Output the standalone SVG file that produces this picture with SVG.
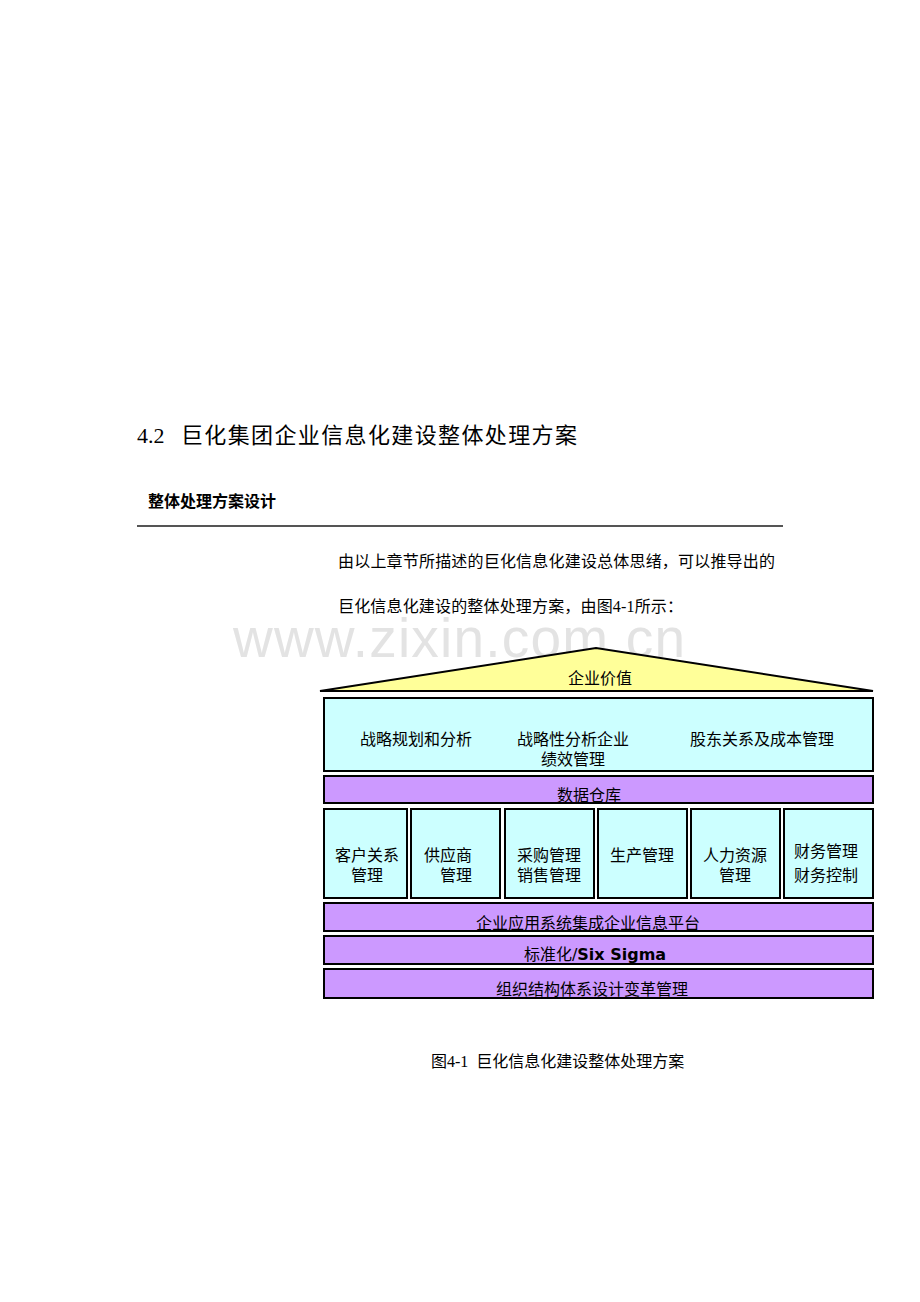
<svg xmlns="http://www.w3.org/2000/svg" width="920" height="1302" viewBox="0 0 920 1302">
<style>
.serif{font-family:"Liberation Serif","Noto Sans CJK SC",serif;fill:#000}
.sans{font-family:"Liberation Sans","Noto Sans CJK SC",sans-serif;fill:#000}
.box{stroke:#000;stroke-width:2}
.cyan{fill:#ccffff}
.purple{fill:#cc99ff}
.t{font-family:"DejaVu Sans","Noto Sans CJK SC",sans-serif;font-size:16px;fill:#000;text-anchor:middle}
</style>
<rect width="920" height="1302" fill="#fff"/>
<text class="serif" x="137" y="443" font-size="22">4.2</text>
<text class="sans" x="181" y="443" font-size="22" textLength="396" lengthAdjust="spacing">巨化集团企业信息化建设整体处理方案</text>
<text class="sans" x="148" y="507" font-size="16" font-weight="bold">整体处理方案设计</text>
<line x1="137" y1="526" x2="783" y2="526" stroke="#555" stroke-width="2"/>
<text class="serif" x="338" y="567" font-size="16" textLength="437" lengthAdjust="spacing">由以上章节所描述的巨化信息化建设总体思绪，可以推导出的</text>
<text class="serif" x="338" y="612" font-size="16" textLength="345" lengthAdjust="spacing">巨化信息化建设的整体处理方案，由图4-1所示：</text>
<text x="459" y="657" font-family="Liberation Sans, sans-serif" font-size="55" fill="#e3e3e3" text-anchor="middle" textLength="452">www.zixin.com.cn</text>
<g id="roof">
<polygon class="box" points="320,691 596,648 873,691" fill="#ffff99"/>
<text class="t" x="600" y="684">企业价值</text>
</g>
<g id="strategy">
<rect class="box cyan" x="324" y="698" width="549" height="73"/>
<text class="t" x="416" y="745">战略规划和分析</text>
<text class="t" x="573" y="745">战略性分析企业</text>
<text class="t" x="573" y="765">绩效管理</text>
<text class="t" x="762" y="745">股东关系及成本管理</text>
</g>
<g id="dw">
<rect class="box purple" x="324" y="776" width="549" height="27"/>
<text class="t" x="589" y="801">数据仓库</text>
</g>
<g id="m1"><rect class="box cyan" x="324" y="809" width="83" height="89"/><text class="t" x="367" y="861">客户关系</text><text class="t" x="367" y="881">管理</text></g>
<g id="m2"><rect class="box cyan" x="411" y="809" width="89" height="89"/><text class="t" x="448" y="861">供应商</text><text class="t" x="456" y="881">管理</text></g>
<g id="m3"><rect class="box cyan" x="505" y="809" width="89" height="89"/><text class="t" x="549" y="861">采购管理</text><text class="t" x="549" y="881">销售管理</text></g>
<g id="m4"><rect class="box cyan" x="598" y="809" width="89" height="89"/><text class="t" x="642" y="861">生产管理</text></g>
<g id="m5"><rect class="box cyan" x="691" y="809" width="89" height="89"/><text class="t" x="735" y="861">人力资源</text><text class="t" x="735" y="881">管理</text></g>
<g id="m6"><rect class="box cyan" x="784" y="809" width="89" height="89"/><text class="t" x="826" y="857">财务管理</text><text class="t" x="826" y="881">财务控制</text></g>
<g id="eai">
<rect class="box purple" x="324" y="903" width="549" height="28"/>
<text class="t" x="588" y="929">企业应用系统集成企业信息平台</text>
</g>
<g id="std">
<rect class="box purple" x="324" y="936" width="549" height="28"/>
<text class="t" x="595" y="960">标准化/<tspan font-weight="bold">Six Sigma</tspan></text>
</g>
<g id="org">
<rect class="box purple" x="324" y="969" width="549" height="29"/>
<text class="t" x="592" y="995">组织结构体系设计变革管理</text>
</g>
<g id="connectors"></g>
<text class="serif" x="431" y="1067" font-size="16" xml:space="preserve">图4-1  巨化信息化建设整体处理方案</text>
</svg>
